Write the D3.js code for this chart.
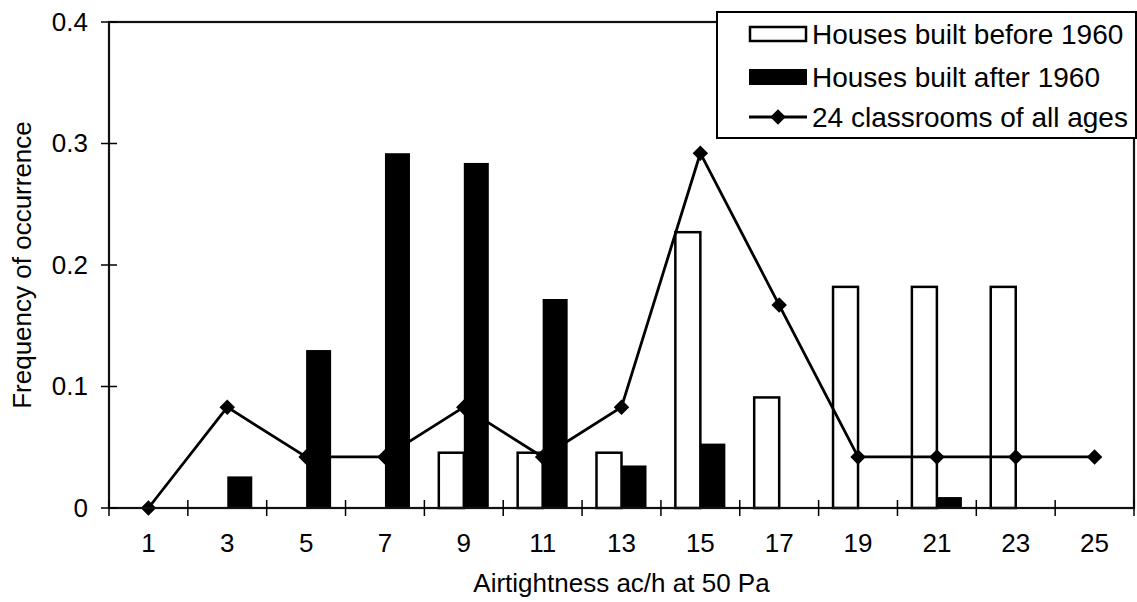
<!DOCTYPE html>
<html>
<head>
<meta charset="utf-8">
<script src="https://cdn.jsdelivr.net/npm/d3@7"></script>
<style>
  body { margin: 0; background: #fff; }
  text { font-family: "Liberation Sans", Arial, sans-serif; fill: #000; }
</style>
</head>
<body>
<div id="chart"></div>
<script>
// airtightness classes (ac/h at 50 Pa)
var categories = ["1", "3", "5", "7", "9", "11", "13", "15", "17", "19", "21", "23", "25"];
var before1960 = [0, 0, 0, 0, 0.0455, 0.0455, 0.0455, 0.227, 0.091, 0.182, 0.182, 0.182, 0];
var after1960 = [0, 0.026, 0.130, 0.292, 0.284, 0.172, 0.035, 0.053, 0, 0, 0.009, 0, 0];
var classrooms = [0, 0.083, 0.042, 0.042, 0.083, 0.042, 0.083, 0.292, 0.167, 0.042, 0.042, 0.042, 0.042];
var yTicks = [0, 0.1, 0.2, 0.3, 0.4];
var seriesNames = ["Houses built before 1960", "Houses built after 1960", "24 classrooms of all ages"];

var W = 1137, H = 602;
var margin = {top: 22, right: 3, bottom: 94, left: 109},
    width = W - margin.left - margin.right,
    height = H - margin.top - margin.bottom;

var svg = d3.select("#chart")
  .append("svg")
    .attr("width", W)
    .attr("height", H)
  .append("g")
    .attr("transform", "translate(" + margin.left + "," + margin.top + ")");

var x = d3.scaleBand()
  .domain(categories)
  .range([0, width])
  .padding(0);

var xSub = d3.scaleBand()
  .domain(["before", "after"])
  .range([0, x.bandwidth()])
  .paddingInner(0)
  .paddingOuter(0.577);

var y = d3.scaleLinear()
  .domain([0, 0.4])
  .range([height, 0]);

// white bars (before 1960) go under the line
var whiteBars = categories.map(function (c, i) { return {cat: c, v: before1960[i]}; })
  .filter(function (d) { return d.v > 0; });

svg.append("g")
  .selectAll("rect")
  .data(whiteBars)
  .enter()
  .append("rect")
    .attr("x", function (d) { return x(d.cat) + xSub("before"); })
    .attr("y", function (d) { return y(d.v); })
    .attr("width", xSub.bandwidth())
    .attr("height", function (d) { return height - y(d.v); })
    .attr("fill", "#fff")
    .attr("stroke", "#000")
    .attr("stroke-width", 2.5);

// classrooms line
var line = d3.line()
  .x(function (d, i) { return x(categories[i]) + x.bandwidth() / 2; })
  .y(function (d) { return y(d); });

svg.append("path")
  .datum(classrooms)
  .attr("fill", "none")
  .attr("stroke", "#000")
  .attr("stroke-width", 2.8)
  .attr("d", line);

var diamond = d3.symbol().type(d3.symbolSquare).size(120);

svg.append("g")
  .selectAll("path")
  .data(classrooms)
  .enter()
  .append("path")
    .attr("d", diamond)
    .attr("fill", "#000")
    .attr("transform", function (d, i) {
      return "translate(" + (x(categories[i]) + x.bandwidth() / 2) + "," + y(d) + ") rotate(45)";
    });

// black bars (after 1960) sit on top of the line
svg.append("g")
  .selectAll("rect")
  .data(after1960)
  .enter()
  .append("rect")
    .attr("x", function (d, i) { return x(categories[i]) + xSub("after"); })
    .attr("y", function (d) { return y(d); })
    .attr("width", xSub.bandwidth())
    .attr("height", function (d) { return height - y(d); })
    .attr("fill", "#000");

// frame
svg.append("rect")
  .attr("x", 0)
  .attr("y", 0)
  .attr("width", width)
  .attr("height", height)
  .attr("fill", "none")
  .attr("stroke", "#111")
  .attr("stroke-width", 2.2);

// Y axis
var yAxis = svg.append("g")
  .call(d3.axisLeft(y).tickValues(yTicks).tickSize(0).tickPadding(21)
    .tickFormat(function (d) { return d === 0 ? "0" : d3.format(".1f")(d); }));
yAxis.select(".domain").remove();
yAxis.selectAll("text").style("font-size", "26px");
svg.append("g")
  .selectAll("line")
  .data(yTicks)
  .enter()
  .append("line")
    .attr("x1", -8).attr("x2", 8)
    .attr("y1", function (d) { return y(d); })
    .attr("y2", function (d) { return y(d); })
    .attr("stroke", "#000").attr("stroke-width", 1.5);

// X axis
var xAxis = svg.append("g")
  .attr("transform", "translate(0," + height + ")")
  .call(d3.axisBottom(x).tickSize(0).tickPadding(26));
xAxis.select(".domain").remove();
xAxis.selectAll("text").style("font-size", "26px");
var bounds = categories.map(function (c) { return x(c); }).concat([width]);
svg.append("g")
  .selectAll("line")
  .data(bounds)
  .enter()
  .append("line")
    .attr("x1", function (d) { return d; })
    .attr("x2", function (d) { return d; })
    .attr("y1", height - 8).attr("y2", height + 8)
    .attr("stroke", "#000").attr("stroke-width", 1.5);

// axis labels
svg.append("text")
  .attr("x", width / 2)
  .attr("y", height + 84)
  .style("text-anchor", "middle")
  .style("font-size", "26px")
  .text("Airtightness ac/h at 50 Pa");

svg.append("text")
  .attr("transform", "rotate(-90)")
  .attr("x", -height / 2)
  .attr("y", -78)
  .style("text-anchor", "middle")
  .style("font-size", "26px")
  .text("Frequency of occurrence");

// legend
var lg = d3.select("svg").append("g").attr("transform", "translate(717,12)");
lg.append("rect")
  .attr("width", 419).attr("height", 126)
  .attr("fill", "#fff").attr("stroke", "#000").attr("stroke-width", 2);
var rowY = [22, 65, 105];
lg.append("rect").attr("x", 33).attr("y", rowY[0] - 7).attr("width", 56).attr("height", 14)
  .attr("fill", "#fff").attr("stroke", "#000").attr("stroke-width", 2.5);
lg.append("rect").attr("x", 32).attr("y", rowY[1] - 8).attr("width", 58).attr("height", 16)
  .attr("fill", "#000");
lg.append("line").attr("x1", 32).attr("x2", 90).attr("y1", rowY[2]).attr("y2", rowY[2])
  .attr("stroke", "#000").attr("stroke-width", 2.8);
lg.append("path").attr("d", diamond).attr("fill", "#000")
  .attr("transform", "translate(61," + rowY[2] + ") rotate(45)");
lg.selectAll("text.lbl")
  .data(seriesNames)
  .enter()
  .append("text")
    .attr("class", "lbl")
    .attr("x", 95)
    .attr("y", function (d, i) { return rowY[i]; })
    .attr("dy", "0.36em")
    .style("font-size", "28px")
    .text(function (d) { return d; });
</script>
</body>
</html>
